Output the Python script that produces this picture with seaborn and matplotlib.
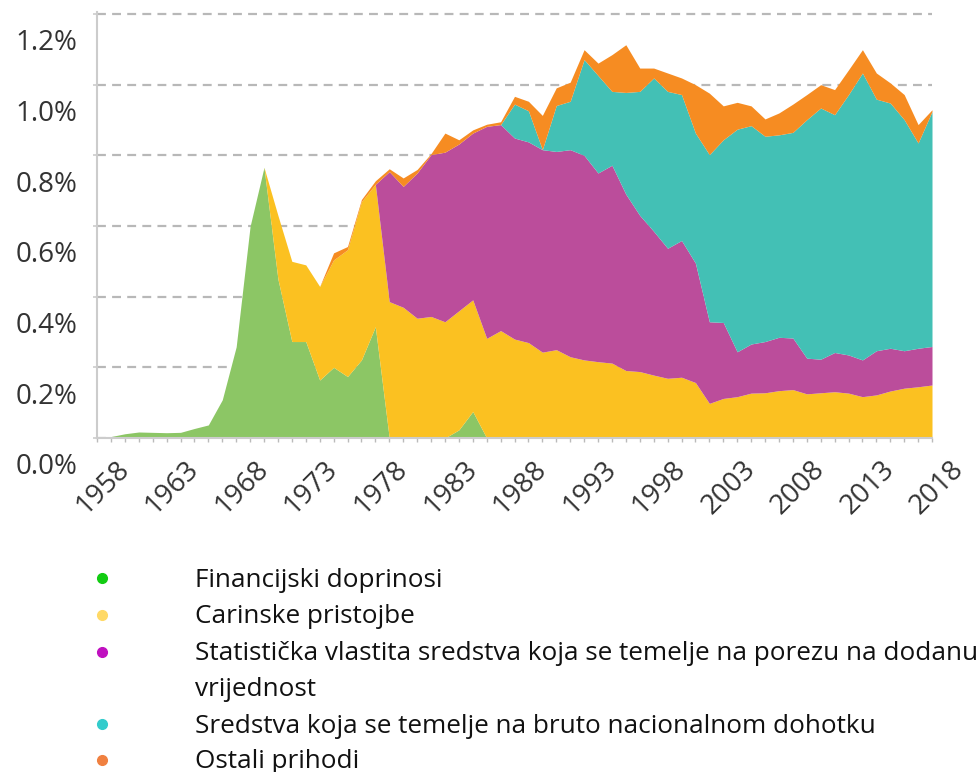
import numpy as np
import matplotlib
matplotlib.use("Agg")
import matplotlib.pyplot as plt
import seaborn as sns
from matplotlib.transforms import ScaledTranslation
from matplotlib.lines import Line2D

# ---------------- data (share of GNI, %) ----------------
years = list(range(1958, 2019))

green = [0.002, 0.004, 0.012, 0.017, 0.016, 0.015, 0.016, 0.027, 0.037, 0.108,
         0.258, 0.599, 0.766, 0.450, 0.273, 0.273, 0.164, 0.200, 0.174, 0.221,
         0.315, 0.0, 0.0, 0.0, 0.0, 0.0, 0.023, 0.075, 0.0, 0.0,
         0.0, 0.0, 0.0, 0.0, 0.0, 0.0, 0.0, 0.0, 0.0, 0.0,
         0.0, 0.0, 0.0, 0.0, 0.0, 0.0, 0.0, 0.0, 0.0, 0.0,
         0.0, 0.0, 0.0, 0.0, 0.0, 0.0, 0.0, 0.0, 0.0, 0.0, 0.0]

yellow = [0.0, 0.0, 0.0, 0.0, 0.0, 0.0, 0.0, 0.0, 0.0, 0.0,
          0.0, 0.0, 0.0, 0.180, 0.227, 0.217, 0.265, 0.304, 0.359, 0.448,
          0.403, 0.386, 0.370, 0.339, 0.344, 0.329, 0.337, 0.316, 0.282, 0.304,
          0.280, 0.270, 0.243, 0.250, 0.230, 0.221, 0.216, 0.212, 0.191, 0.188,
          0.178, 0.169, 0.172, 0.157, 0.098, 0.112, 0.117, 0.127, 0.128, 0.134,
          0.137, 0.125, 0.128, 0.131, 0.127, 0.117, 0.122, 0.133, 0.141, 0.145, 0.150]

purple = [0.0] * 21 + [
          0.368, 0.342, 0.411, 0.458, 0.480, 0.472, 0.472, 0.600, 0.583,
          0.569, 0.568, 0.573, 0.561, 0.586, 0.579, 0.534, 0.560, 0.499, 0.442,
          0.407, 0.368, 0.387, 0.338, 0.231, 0.215, 0.127, 0.139, 0.145, 0.151,
          0.146, 0.101, 0.095, 0.111, 0.108, 0.104, 0.125, 0.121, 0.106, 0.109, 0.109]

teal = [0.0] * 30 + [
        0.096, 0.088, 0.0, 0.130, 0.137, 0.271, 0.276, 0.209, 0.288, 0.351,
        0.434, 0.444, 0.413, 0.368, 0.473, 0.517, 0.630, 0.618, 0.581, 0.573,
        0.582, 0.675, 0.711, 0.673, 0.737, 0.812, 0.712, 0.694, 0.654, 0.581, 0.665]

orange = [0.0] * 17 + [
          0.020, 0.009, 0.006, 0.010, 0.008, 0.024, 0.010, 0.003, 0.054, 0.012,
          0.009, 0.006, 0.008, 0.022, 0.027, 0.097, 0.050, 0.054, 0.028, 0.035,
          0.104, 0.135, 0.066, 0.028, 0.052, 0.047, 0.137, 0.174, 0.096, 0.076,
          0.056, 0.049, 0.062, 0.080, 0.071, 0.066, 0.071, 0.070, 0.066, 0.074,
          0.057, 0.071, 0.052, 0.005]

series_names = ["Financijski doprinosi",
                "Carinske pristojbe",
                "Statistička vlastita sredstva koja se temelje na porezu na dodanu\nvrijednost",
                "Sredstva koja se temelje na bruto nacionalnom dohotku",
                "Ostali prihodi"]
area_colors = ["#8cc665", "#fbc121", "#bb4d9b", "#43c0b5", "#f68c22"]
legend_colors = ["#12cc12", "#ffd966", "#c010c0", "#33cccc", "#f08040"]

xtick_years = list(range(1958, 2019, 5))
ytick_vals = [0.0, 0.2, 0.4, 0.6, 0.8, 1.0, 1.2]
ytick_labels = ["0.0%", "0.2%", "0.4%", "0.6%", "0.8%", "1.0%", "1.2%"]

# ---------------- style ----------------
sns.set_theme(style="white")
plt.rcParams["font.family"] = ["Open Sans", "DejaVu Sans"]

W, H = 978, 772
fig = plt.figure(figsize=(W / 100, H / 100), dpi=100)
ymax = 1.205
pxu = 424 / 1.2
ax_h = ymax * pxu
ax = fig.add_axes([97 / W, 1 - 438 / H, 835 / W, ax_h / H])

palette = sns.color_palette(area_colors)
ax.stackplot(years, green, yellow, purple, teal, orange,
             colors=palette, linewidth=0, antialiased=True, zorder=2)

ax.set_xlim(1958, 2018)
ax.set_ylim(0, ymax)

ax.set_yticks(ytick_vals)
ax.set_yticklabels(ytick_labels)
ax.set_xticks(xtick_years)
ax.set_xticklabels([str(y) for y in xtick_years])
ax.set_xticks(years, minor=True)

ax.yaxis.grid(True, color="#b8b8b8", linestyle=(0, (4, 2.8)), linewidth=1.6, zorder=0)
ax.xaxis.grid(False)
ax.set_axisbelow(True)

sns.despine(ax=ax, top=True, right=True)
for s in ("left", "bottom"):
    ax.spines[s].set_color("#cccccc")
    ax.spines[s].set_linewidth(1.5)

ax.tick_params(axis="y", which="major", length=3, width=1.2, color="#cccccc",
               pad=11, labelsize=20, labelcolor="#333333", left=True)
ax.tick_params(axis="x", which="both", length=3, width=1, color="#bbbbbb",
               pad=0, labelsize=20, labelcolor="#333333", bottom=True)

# y labels sit lower than their gridlines in the reference
for t in ax.yaxis.get_major_ticks():
    lab = t.label1
    lab.set_transform(lab.get_transform() + ScaledTranslation(0, -0.26, fig.dpi_scale_trans))

for t in ax.xaxis.get_major_ticks():
    lab = t.label1
    lab.set_rotation(45)
    lab.set_rotation_mode("anchor")
    lab.set_ha("right")
    lab.set_va("center")
    lab.set_transform(lab.get_transform() + ScaledTranslation(0.28, -0.23, fig.dpi_scale_trans))

# ---------------- legend (below the chart) ----------------
line_texts = [[series_names[0]], [series_names[1]], series_names[2].split("\n"),
              [series_names[3]], [series_names[4]]]
baselines = [[587], [623], [660, 696], [733], [768]]
dot_y = [578, 615, 652, 724, 760]
for lines, col, ybs, yd in zip(line_texts, legend_colors, baselines, dot_y):
    fig.add_artist(Line2D([102 / W], [1 - yd / H], marker="o", markersize=7,
                          color=col, linestyle="none", transform=fig.transFigure))
    for txt, yb in zip(lines, ybs):
        fig.text(195 / W, 1 - yb / H, txt, fontsize=18.8, color="#111111",
                 ha="left", va="baseline")

fig.savefig("out.png", dpi=100)
